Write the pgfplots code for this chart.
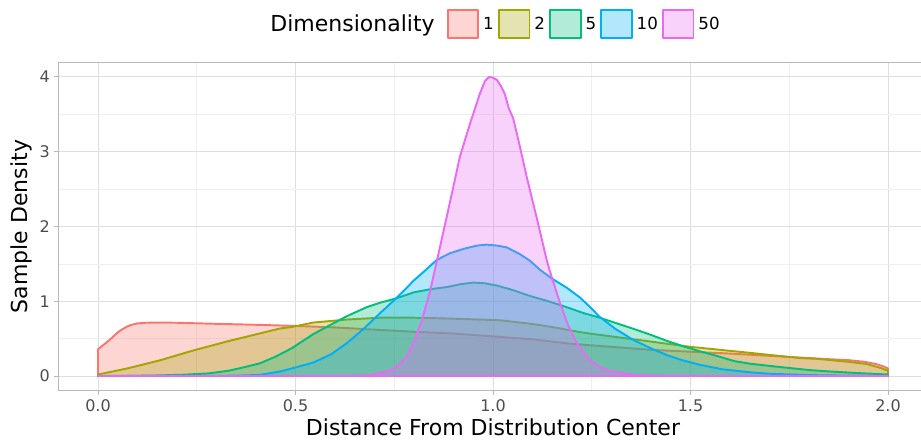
\documentclass[border=0pt]{standalone}
\usepackage{pgfplots}
\pgfplotsset{compat=1.18}
\usepackage{fontspec}
\setmainfont{DejaVu Sans}
\definecolor{c1}{HTML}{F8766D}
\definecolor{c2}{HTML}{A3A500}
\definecolor{c5}{HTML}{00BF7D}
\definecolor{c10}{HTML}{00B0F6}
\definecolor{c50}{HTML}{E76BF3}
\definecolor{gridmaj}{HTML}{DEDEDE}
\definecolor{gridmin}{HTML}{EFEFEF}
\definecolor{bordercol}{HTML}{B8B8B8}
\definecolor{ticklab}{HTML}{4D4D4D}

\pgfplotstableread{
x y
0.000 0.357
0.010 0.40
0.022 0.45
0.035 0.51
0.047 0.57
0.060 0.62
0.073 0.66
0.085 0.685
0.100 0.703
0.120 0.712
0.150 0.715
0.200 0.712
0.250 0.705
0.300 0.698
0.400 0.685
0.500 0.670
0.600 0.650
0.700 0.620
0.800 0.592
0.900 0.568
1.000 0.530
1.100 0.490
1.200 0.430
1.300 0.390
1.400 0.350
1.500 0.325
1.600 0.300
1.700 0.270
1.800 0.240
1.850 0.225
1.900 0.212
1.940 0.190
1.970 0.160
1.990 0.125
2.000 0.100
}\dimA

\pgfplotstableread{
x y
0.000 0.020
0.073 0.10
0.157 0.21
0.240 0.34
0.325 0.46
0.410 0.57
0.460 0.635
0.490 0.655
0.545 0.715
0.630 0.755
0.714 0.78
0.800 0.78
0.880 0.77
0.967 0.755
1.018 0.745
1.094 0.70
1.144 0.66
1.228 0.58
1.270 0.55
1.372 0.48
1.500 0.39
1.650 0.31
1.777 0.24
1.820 0.23
1.900 0.19
1.946 0.16
1.980 0.11
2.000 0.07
}\dimB

\pgfplotstableread{
x y
0.000 0.000
0.100 0.003
0.157 0.008
0.220 0.018
0.280 0.035
0.330 0.07
0.368 0.115
0.410 0.17
0.450 0.26
0.490 0.37
0.545 0.56
0.580 0.66
0.630 0.80
0.680 0.92
0.714 0.98
0.756 1.04
0.800 1.12
0.840 1.16
0.883 1.19
0.920 1.23
0.950 1.25
0.980 1.24
1.010 1.21
1.050 1.15
1.094 1.07
1.140 1.00
1.187 0.92
1.230 0.84
1.270 0.78
1.310 0.71
1.356 0.63
1.400 0.55
1.440 0.47
1.480 0.40
1.524 0.33
1.566 0.27
1.610 0.20
1.650 0.165
1.735 0.115
1.800 0.08
1.860 0.058
1.920 0.04
2.000 0.02
}\dimE

\pgfplotstableread{
x y
0.000 0.000
0.300 0.002
0.360 0.006
0.410 0.015
0.460 0.06
0.490 0.10
0.545 0.18
0.590 0.29
0.630 0.44
0.670 0.62
0.714 0.84
0.757 1.05
0.800 1.28
0.830 1.42
0.857 1.55
0.890 1.64
0.925 1.70
0.960 1.745
0.984 1.757
1.010 1.745
1.035 1.72
1.068 1.63
1.094 1.54
1.119 1.42
1.150 1.30
1.187 1.18
1.220 1.05
1.250 0.90
1.270 0.79
1.310 0.63
1.356 0.48
1.400 0.37
1.440 0.28
1.480 0.21
1.524 0.15
1.580 0.09
1.650 0.05
1.700 0.03
1.800 0.012
1.900 0.005
2.000 0.002
}\dimJ

\pgfplotstableread{
x y
0.000 0.000
0.600 0.000
0.670 0.005
0.700 0.02
0.740 0.08
0.760 0.14
0.780 0.24
0.800 0.45
0.820 0.75
0.840 1.12
0.866 1.73
0.895 2.42
0.916 2.93
0.942 3.38
0.967 3.78
0.980 3.95
0.990 4.00
1.000 3.99
1.010 3.96
1.020 3.88
1.030 3.77
1.040 3.58
1.051 3.45
1.068 3.07
1.085 2.67
1.110 2.13
1.136 1.55
1.144 1.40
1.170 0.97
1.190 0.68
1.212 0.44
1.245 0.21
1.270 0.12
1.296 0.07
1.356 0.015
1.400 0.005
1.500 0.000
2.000 0.000
}\dimF

\begin{document}
\begin{tikzpicture}
\begin{axis}[
  scale only axis,
  x=296.25pt, y=56.0625pt,
  xmin=-0.1, xmax=2.1, ymin=-0.2, ymax=4.2,
  axis line style={bordercol, line width=0.75pt},
  xtick={0,0.5,1,1.5,2}, ytick={0,1,2,3,4},
  xticklabels={0.0,0.5,1.0,1.5,2.0},
  minor xtick={0.25,0.75,1.25,1.75}, minor ytick={0.5,1.5,2.5,3.5},
  grid=both,
  major grid style={gridmaj, line width=0.75pt},
  minor grid style={gridmin, line width=0.5pt},
  tick align=outside, tick pos=left,
  major tick length=3pt, minor tick length=0pt,
  every tick/.style={bordercol, line width=0.75pt},
  /pgf/number format/assume math mode=true,
  ticklabel style={font=\fontsize{12}{14}\selectfont, text=ticklab},
  xlabel={Distance From Distribution Center},
  ylabel={Sample Density},
  label style={font=\fontsize{16.5}{18}\selectfont},
  xlabel style={at={(axis description cs:0.5,-0.1340)}, anchor=base, inner sep=0pt},
  ylabel style={at={(axis description cs:-0.0426,0.5)}, anchor=center},
  legend style={at={(axis description cs:0.5,1.115)}, anchor=center,
    draw=none, fill=none, legend columns=-1,
    font=\fontsize{12.5}{15}\selectfont,
    /tikz/every even column/.append style={column sep=3pt},
    /tikz/every odd column/.append style={column sep=3pt},
    nodes={inner xsep=0pt, inner ysep=0pt}},
  legend image code/.code={\draw[#1, line width=1.4pt] (0pt,-10.5pt) rectangle (23pt,10.5pt);},
  every axis plot/.append style={line width=1.45pt, line join=round, fill opacity=0.3},
]
\addlegendimage{empty legend}
\addlegendentry{\fontsize{16.5}{18}\selectfont Dimensionality\kern 6pt}
\addplot[draw=c1, fill=c1] table {\dimA} \closedcycle;
\addlegendentry{1}
\addplot[draw=c2, fill=c2] table {\dimB} \closedcycle;
\addlegendentry{2}
\addplot[draw=c5, fill=c5] table {\dimE} \closedcycle;
\addlegendentry{5}
\addplot[draw=c10, fill=c10] table {\dimJ} \closedcycle;
\addlegendentry{10}
\addplot[draw=c50, fill=c50] table {\dimF} \closedcycle;
\addlegendentry{50}
\coordinate (bbSW) at (axis cs:-0.2481,-0.856);
\coordinate (bbNE) at (axis cs:2.0835,5.030);
\end{axis}
\pgfresetboundingbox
\useasboundingbox (bbSW) rectangle (bbNE);
\end{tikzpicture}
\end{document}
